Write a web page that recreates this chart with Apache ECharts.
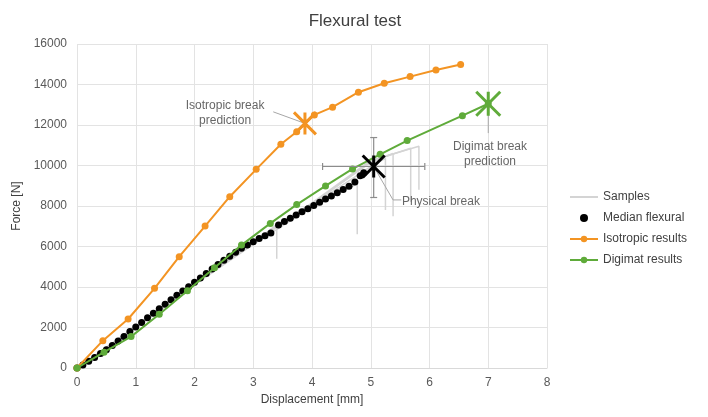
<!DOCTYPE html>
<html>
<head>
    <meta charset="utf-8">
    <title>Flexural test</title>
    <script src="https://cdn.jsdelivr.net/npm/echarts/dist/echarts.min.js"></script>
</head>
<body style="margin:0;">
    <div id="chart" style="width: 708px; height: 417px;"></div>
    <script type="text/javascript">
        // displacement [mm], force [N]
        const medianFlexural = [
            [0, 0], [0.1, 150], [0.2, 330], [0.3, 520], [0.4, 710], [0.5, 900],
            [0.6, 1110], [0.7, 1330], [0.8, 1560], [0.9, 1800], [1.0, 2030],
            [1.1, 2250], [1.2, 2480], [1.3, 2700], [1.4, 2930], [1.5, 3150],
            [1.6, 3370], [1.7, 3590], [1.8, 3800], [1.9, 4010], [2.0, 4230],
            [2.1, 4450], [2.2, 4670], [2.3, 4890], [2.4, 5110], [2.5, 5320],
            [2.6, 5520], [2.7, 5720], [2.8, 5910], [2.9, 6080], [3.0, 6240],
            [3.1, 6390], [3.2, 6530], [3.3, 6670], [3.43, 7060], [3.53, 7240],
            [3.63, 7400], [3.73, 7560], [3.83, 7710], [3.93, 7860], [4.03, 8030],
            [4.13, 8180], [4.23, 8340], [4.33, 8500], [4.43, 8660], [4.53, 8820],
            [4.63, 8980], [4.73, 9180], [4.82, 9500], [4.88, 9640]
        ];
        const isotropicResults = [
            [0, 0], [0.44, 1350], [0.87, 2420], [1.32, 3935], [1.74, 5500],
            [2.18, 7010], [2.60, 8460], [3.05, 9810], [3.47, 11050], [3.74, 11670],
            [4.04, 12500], [4.35, 12880], [4.79, 13620], [5.23, 14060],
            [5.67, 14390], [6.11, 14720], [6.53, 14990]
        ];
        const digimatResults = [
            [0, 0], [0.46, 780], [0.92, 1550], [1.40, 2650], [1.88, 3820],
            [2.34, 4950], [2.80, 6070], [3.29, 7140], [3.74, 8070], [4.23, 8990],
            [4.69, 9830], [5.16, 10550], [5.62, 11230], [6.56, 12460]
        ];
        // each sample rises then drops at break
        const samples = [
            [[0, 0], [1, 2000], [2, 4150], [3, 6150], [3.40, 7100], [3.40, 5400]],
            [[0, 0], [1, 1950], [2, 4100], [3, 6100], [4, 7950], [4.77, 9100], [4.77, 6600]],
            [[0, 0], [1, 2000], [2, 4200], [3, 6200], [4, 8050], [5, 9950], [5.25, 10350], [5.25, 7800]],
            [[0, 0], [1, 2050], [2, 4250], [3, 6250], [4, 8100], [5, 10150], [5.38, 10600], [5.38, 7500]],
            [[0, 0], [1, 2000], [2, 4200], [3, 6200], [4, 8100], [5, 10200], [5.68, 10850], [5.68, 8200]],
            [[0, 0], [1, 2000], [2, 4200], [3, 6250], [4, 8150], [5, 10250], [5.82, 10950], [5.82, 8800]]
        ];
        const isotropicBreak = [3.88, 12080];
        const digimatBreak = [7.0, 13050];
        const physicalBreak = [5.05, 9950];
        const physicalErr = { xLow: 4.18, xHigh: 5.92, yLow: 8420, yHigh: 11380 };
        const leaders = [
            [[3.34, 12650], isotropicBreak],
            [digimatBreak, [7.0, 11600]],
            [physicalBreak, [5.38, 8300], [5.52, 8300]]
        ];
        const notes = [
            { text: 'Isotropic break\nprediction', at: [2.52, 12590], align: 'center' },
            { text: 'Digimat break\nprediction', at: [7.03, 10570], align: 'center' },
            { text: 'Physical break', at: [5.53, 8210], align: 'left' }
        ];
        const legendNames = ['Samples', 'Median flexural', 'Isotropic results', 'Digimat results'];

        const ORANGE = '#f39423';
        const GREEN = '#5fab3a';
        const SAMPLE = '#d4d4d4';
        const TEXT = '#404040';
        const FONT = 'Liberation Sans';
        const STAR = 'path://M0 0L20 20M20 0L0 20M10 0L10 20';

        const chart = echarts.init(document.getElementById('chart'));

        const series = [];
        samples.forEach(function (s) {
            series.push({
                name: 'Samples', type: 'line', data: s, showSymbol: false, symbol: 'none',
                lineStyle: { color: SAMPLE, width: 1.5 }, itemStyle: { color: SAMPLE },
                silent: true, z: 1
            });
        });
        series.push({
            name: 'Median flexural', type: 'scatter', data: medianFlexural,
            symbolSize: 7, itemStyle: { color: '#000', opacity: 1 }, z: 2
        });
        series.push({
            name: 'Isotropic results', type: 'line', data: isotropicResults,
            symbol: 'circle', symbolSize: 7, showAllSymbol: true,
            lineStyle: { color: ORANGE, width: 2 }, itemStyle: { color: ORANGE }, z: 3
        });
        series.push({
            name: 'Digimat results', type: 'line', data: digimatResults.concat([digimatBreak]),
            symbol: 'circle', symbolSize: 7, showAllSymbol: true,
            lineStyle: { color: GREEN, width: 2 }, itemStyle: { color: GREEN }, z: 4
        });
        // leader lines
        leaders.forEach(function (l) {
            series.push({
                type: 'line', data: l, symbol: 'none', silent: true,
                lineStyle: { color: '#a6a6a6', width: 1 }, z: 2
            });
        });
        // error bars of physical break
        series.push({
            type: 'custom', silent: true, z: 5,
            data: [[physicalBreak[0], physicalBreak[1], physicalErr.xLow, physicalErr.xHigh, physicalErr.yLow, physicalErr.yHigh]],
            renderItem: function (params, api) {
                const c = api.coord([api.value(0), api.value(1)]);
                const xl = api.coord([api.value(2), api.value(1)]);
                const xh = api.coord([api.value(3), api.value(1)]);
                const yl = api.coord([api.value(0), api.value(4)]);
                const yh = api.coord([api.value(0), api.value(5)]);
                const st = { stroke: '#8c8c8c', lineWidth: 1.2 };
                const cap = 3.5;
                const seg = function (x1, y1, x2, y2) {
                    return { type: 'line', shape: { x1: x1, y1: y1, x2: x2, y2: y2 }, style: st };
                };
                return {
                    type: 'group', children: [
                        seg(xl[0], c[1], xh[0], c[1]),
                        seg(xl[0], c[1] - cap, xl[0], c[1] + cap),
                        seg(xh[0], c[1] - cap, xh[0], c[1] + cap),
                        seg(c[0], yl[1], c[0], yh[1]),
                        seg(c[0] - cap, yl[1], c[0] + cap, yl[1]),
                        seg(c[0] - cap, yh[1], c[0] + cap, yh[1])
                    ]
                };
            }
        });
        // break stars
        [[isotropicBreak, ORANGE, 22], [digimatBreak, GREEN, 24], [physicalBreak, '#000', 22]].forEach(function (s) {
            series.push({
                type: 'scatter', data: [s[0]], symbol: STAR, symbolSize: s[2], silent: true, z: 6,
                itemStyle: { color: 'none', borderColor: s[1], borderWidth: 3, opacity: 1 }
            });
        });
        // annotation texts
        notes.forEach(function (n) {
            series.push({
                type: 'scatter', data: [n.at], symbolSize: 0, silent: true, z: 7,
                label: {
                    show: true, position: 'inside', formatter: n.text, align: n.align,
                    color: TEXT, fontSize: 12, fontFamily: FONT, lineHeight: 15
                }
            });
        });

        const option = {
            animation: false,
            title: {
                text: 'Flexural test', left: 350, top: 8, textAlign: 'center',
                textStyle: { color: TEXT, fontSize: 17, fontWeight: 'normal', fontFamily: FONT }
            },
            grid: { left: 77, right: 161, top: 44, bottom: 49 },
            legend: {
                orient: 'vertical', left: 564, top: 186,
                itemWidth: 28, itemHeight: 8, itemGap: 9, itemTextGap: 3,
                textStyle: { color: TEXT, fontSize: 12, fontFamily: FONT },
                data: legendNames.map(function (n) {
                    if (n === 'Samples') {
                        return { name: n, itemStyle: { color: 'rgba(0,0,0,0)', borderColor: 'rgba(0,0,0,0)', borderWidth: 0 } };
                    }
                    if (n === 'Median flexural') {
                        return { name: n, icon: 'circle', itemStyle: { color: '#000' } };
                    }
                    return { name: n };
                })
            },
            xAxis: {
                type: 'value', min: 0, max: 8, interval: 1,
                name: 'Displacement [mm]', nameLocation: 'middle', nameGap: 23,
                nameTextStyle: { color: TEXT, fontSize: 12, fontFamily: FONT },
                axisLine: { lineStyle: { color: '#d9d9d9' } },
                axisTick: { show: false },
                axisLabel: { color: '#595959', fontSize: 12, fontFamily: FONT, margin: 9 },
                splitLine: { lineStyle: { color: '#e3e3e3' } }
            },
            yAxis: {
                type: 'value', min: 0, max: 16000, interval: 2000,
                name: 'Force [N]', nameLocation: 'middle', nameGap: 49,
                nameTextStyle: { color: TEXT, fontSize: 12, fontFamily: FONT },
                axisLine: { show: false },
                axisTick: { show: false },
                axisLabel: {
                    color: '#595959', fontSize: 12, fontFamily: FONT, margin: 10,
                    formatter: function (v) { return String(v); }
                },
                splitLine: { lineStyle: { color: '#e3e3e3' } }
            },
            series: series
        };

        chart.setOption(option);
    </script>
</body>
</html>
